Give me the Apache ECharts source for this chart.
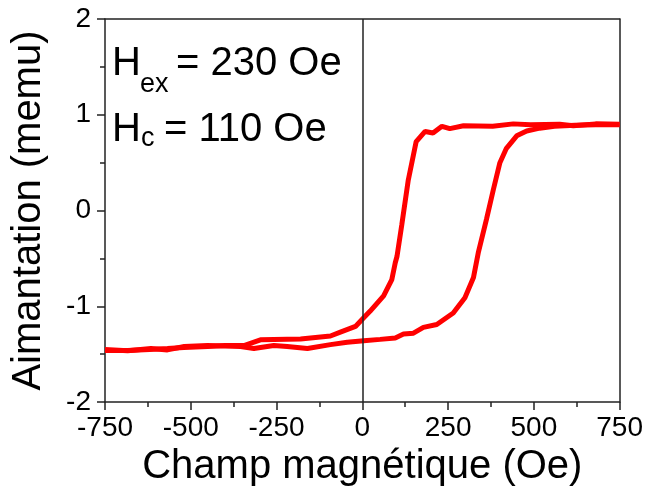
<!DOCTYPE html>
<html>
<head>
<meta charset="utf-8">
<script src="https://cdn.jsdelivr.net/npm/echarts@6/dist/echarts.min.js"></script>
<style>
  html, body { margin: 0; padding: 0; background: #fff; }
  #chart { width: 646px; height: 492px; }
</style>
</head>
<body>
<div id="chart"></div>
<script>
// champ descendant (+750 -> -750)
const fieldDown = [750, 680, 615, 575, 490, 440, 380, 295, 255, 232, 206, 183, 157, 134, 115, 101, 96, 86, 62, 23, 4, -20, -64, -93, -180, -297, -345, -400, -451, -520, -568, -620, -684, -750];
const momentDown = [0.90, 0.905, 0.885, 0.90, 0.895, 0.905, 0.88, 0.885, 0.855, 0.88, 0.81, 0.826, 0.72, 0.32, -0.15, -0.48, -0.545, -0.72, -0.89, -1.05, -1.12, -1.21, -1.27, -1.31, -1.34, -1.35, -1.41, -1.41, -1.42, -1.43, -1.44, -1.45, -1.46, -1.46];
// champ montant (-750 -> +750)
const fieldUp = [-750, -684, -616, -568, -519, -451, -355, -316, -258, -219, -160, -93, -44, 4, 52, 96, 120, 149, 178, 217, 265, 299, 324, 338, 362, 382, 401, 420, 450, 479, 517, 560, 620, 680, 750];
const momentUp = [-1.45, -1.465, -1.44, -1.455, -1.42, -1.41, -1.42, -1.44, -1.41, -1.42, -1.44, -1.40, -1.375, -1.36, -1.345, -1.33, -1.29, -1.28, -1.22, -1.19, -1.07, -0.91, -0.70, -0.44, -0.09, 0.22, 0.5, 0.65, 0.78, 0.83, 0.86, 0.88, 0.89, 0.895, 0.895];

const xTicks = [-750, -500, -250, 0, 250, 500, 750];
const yTicks = [-2, -1, 0, 1, 2];

const chart = echarts.init(document.getElementById('chart'), null, { renderer: 'canvas' });
const font = 'Liberation Sans, Arial, sans-serif';
const red = '#ff0000';

const pairs = (xs, ys) => xs.map((x, i) => [x, ys[i]]);

const option = {
  backgroundColor: '#fff',
  animation: false,
  textStyle: { fontFamily: font },
  grid: { left: 105, right: 26, top: 19, bottom: 88, containLabel: false },
  xAxis: [{
    type: 'value',
    min: xTicks[0], max: xTicks[xTicks.length - 1], interval: 250,
    name: 'Champ magnétique (Oe)',
    nameLocation: 'middle', nameGap: 43,
    nameTextStyle: { fontSize: 40, color: '#000', fontFamily: font },
    axisLine: { show: true, onZero: false, lineStyle: { color: '#222', width: 1.5 } },
    axisTick: { show: true, inside: false, length: 8, lineStyle: { color: '#222', width: 1.5 } },
    minorTick: { show: true, splitNumber: 2, length: 5, lineStyle: { color: '#222', width: 1.5 } },
    axisLabel: { fontSize: 28, color: '#000', margin: 12, fontFamily: font },
    splitLine: { show: false }
  }, {
    type: 'value', position: 'top',
    min: xTicks[0], max: xTicks[xTicks.length - 1],
    axisLine: { show: true, onZero: false, lineStyle: { color: '#222', width: 1.5 } },
    axisTick: { show: false }, axisLabel: { show: false }, splitLine: { show: false }
  }],
  yAxis: [{
    type: 'value',
    min: yTicks[0], max: yTicks[yTicks.length - 1], interval: 1,
    name: 'Aimantation (memu)',
    nameLocation: 'middle', nameGap: 56, nameRotate: 90,
    nameTextStyle: { fontSize: 40, color: '#000', fontFamily: font },
    axisLine: { show: true, onZero: false, lineStyle: { color: '#222', width: 1.5 } },
    axisTick: { show: true, inside: false, length: 8, lineStyle: { color: '#222', width: 1.5 } },
    minorTick: { show: true, splitNumber: 2, length: 5, lineStyle: { color: '#222', width: 1.5 } },
    axisLabel: { fontSize: 28, color: '#000', margin: 14, fontFamily: font },
    splitLine: { show: false }
  }, {
    type: 'value', position: 'right',
    min: yTicks[0], max: yTicks[yTicks.length - 1],
    axisLine: { show: true, onZero: false, lineStyle: { color: '#222', width: 1.5 } },
    axisTick: { show: false }, axisLabel: { show: false }, splitLine: { show: false }
  }],
  series: [{
    type: 'line',
    data: pairs(fieldDown, momentDown),
    symbol: 'none', smooth: false,
    lineStyle: { color: red, width: 5 },
    markLine: {
      silent: true, symbol: 'none', label: { show: false },
      lineStyle: { color: '#222', width: 1.5, type: 'solid' },
      data: [{ xAxis: 0 }]
    }
  }, {
    type: 'line',
    data: pairs(fieldUp, momentUp),
    symbol: 'none', smooth: false,
    lineStyle: { color: red, width: 5 }
  }],
  graphic: [
    { type: 'text', left: 112, top: 44, style: { text: 'H', font: '40px ' + font, fill: '#000' } },
    { type: 'text', left: 140, top: 71, style: { text: 'ex', font: '27px ' + font, fill: '#000' } },
    { type: 'text', left: 176, top: 44, style: { text: '= 230 Oe', font: '40px ' + font, fill: '#000' } },
    { type: 'text', left: 112, top: 110, style: { text: 'H', font: '40px ' + font, fill: '#000' } },
    { type: 'text', left: 141, top: 125, style: { text: 'c', font: '27px ' + font, fill: '#000' } },
    { type: 'text', left: 164, top: 110, style: { text: '= 110 Oe', font: '40px ' + font, fill: '#000' } }
  ]
};

chart.setOption(option);
</script>
</body>
</html>
